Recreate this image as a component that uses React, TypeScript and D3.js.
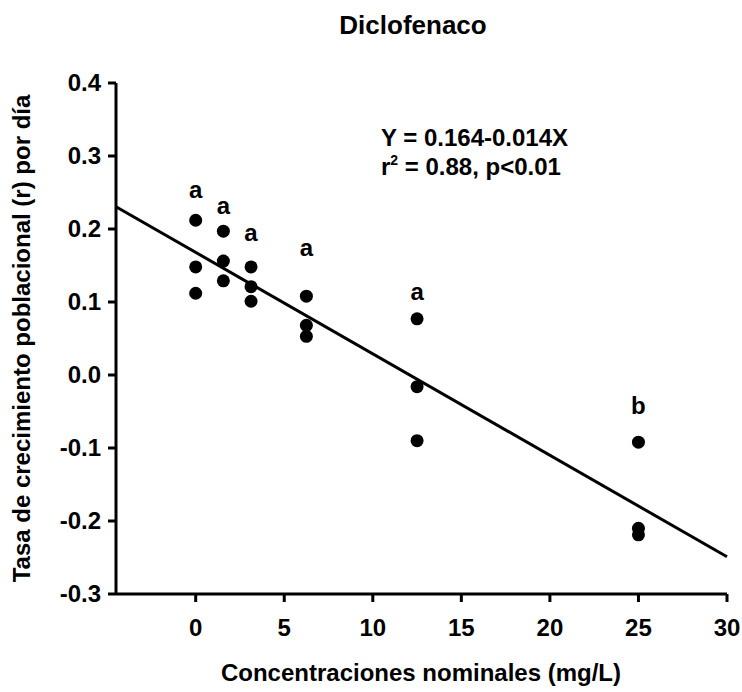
import React from 'react';
import * as d3 from 'd3';

// concentraciones nominales (mg/L) y r por réplica
const concentrations = [0, 1.5625, 3.125, 6.25, 12.5, 25];
const rValues = [
  [0.212, 0.148, 0.112],
  [0.197, 0.156, 0.129],
  [0.148, 0.121, 0.101],
  [0.108, 0.068, 0.053],
  [0.077, -0.016, -0.090],
  [-0.092, -0.210, -0.219],
];
const groupLetters = ['a', 'a', 'a', 'a', 'a', 'b'];
// altura (en unidades de r) de cada letra
const letterLevels = [0.242, 0.221, 0.184, 0.163, 0.103, -0.053];
const xTicks = [0, 5, 10, 15, 20, 25, 30];
const yTicks = [0.4, 0.3, 0.2, 0.1, 0.0, -0.1, -0.2, -0.3];
// recta de regresión tal como está dibujada
const fitIntercept = 0.168;
const fitSlope = -0.0139;
const fitRange = [-4.5, 30];

const W = 742;
const H = 692;

const App = () => {
  const x = d3.scaleLinear().domain([-4.5, 30]).range([116, 727]);
  const y = d3.scaleLinear().domain([-0.3, 0.4]).range([594, 83]);
  const font = '"Liberation Sans", Arial, sans-serif';

  const points = concentrations.flatMap((c, i) => rValues[i].map(v => ({ c, v })));
  const line = d3.line<number>().x(d => x(d)).y(d => y(fitIntercept + fitSlope * d));

  return (
    <svg width={W} height={H} style={{ position: 'absolute', left: 0, top: 0, background: '#fff' }}
      fontFamily={font} fontWeight="bold">
      <text x={413} y={34} textAnchor="middle" fontSize={26}>Diclofenaco</text>

      {/* eje y */}
      <line x1={x(-4.5)} x2={x(-4.5)} y1={y(0.4)} y2={y(-0.3)} stroke="#000" strokeWidth={3} />
      {yTicks.map(t => (
        <g key={t}>
          <line x1={x(-4.5) - 8} x2={x(-4.5)} y1={y(t)} y2={y(t)} stroke="#000" strokeWidth={3} />
          <text x={101} y={y(t)} dy="0.35em" textAnchor="end" fontSize={24}>{t.toFixed(1)}</text>
        </g>
      ))}

      {/* eje x */}
      <line x1={x(-4.5)} x2={x(30)} y1={y(-0.3)} y2={y(-0.3)} stroke="#000" strokeWidth={3} />
      {xTicks.map(t => (
        <g key={t}>
          <line x1={x(t)} x2={x(t)} y1={y(-0.3)} y2={y(-0.3) + 8} stroke="#000" strokeWidth={3} />
          <text x={x(t)} y={636} textAnchor="middle" fontSize={24}>{t}</text>
        </g>
      ))}

      <text x={421} y={681} textAnchor="middle" fontSize={24}>Concentraciones nominales (mg/L)</text>
      <text transform={`translate(30, ${y(0.05)}) rotate(-90)`} textAnchor="middle" fontSize={24}>
        Tasa de crecimiento poblacional (r) por día
      </text>

      <path d={line(fitRange) || ''} fill="none" stroke="#000" strokeWidth={3} />

      {points.map((p, i) => (
        <circle key={i} cx={x(p.c)} cy={y(p.v)} r={6.5} fill="#000" />
      ))}

      {concentrations.map((c, i) => (
        <text key={c} x={x(c)} y={y(letterLevels[i])} textAnchor="middle" fontSize={24}>
          {groupLetters[i]}
        </text>
      ))}

      <text x={381} y={146} fontSize={24}>Y = 0.164-0.014X</text>
      <text x={381} y={175} fontSize={24}>
        r<tspan dy={-10} fontSize={14}>2</tspan><tspan dy={10}> = 0.88, p&lt;0.01</tspan>
      </text>
    </svg>
  );
};

export default App;
